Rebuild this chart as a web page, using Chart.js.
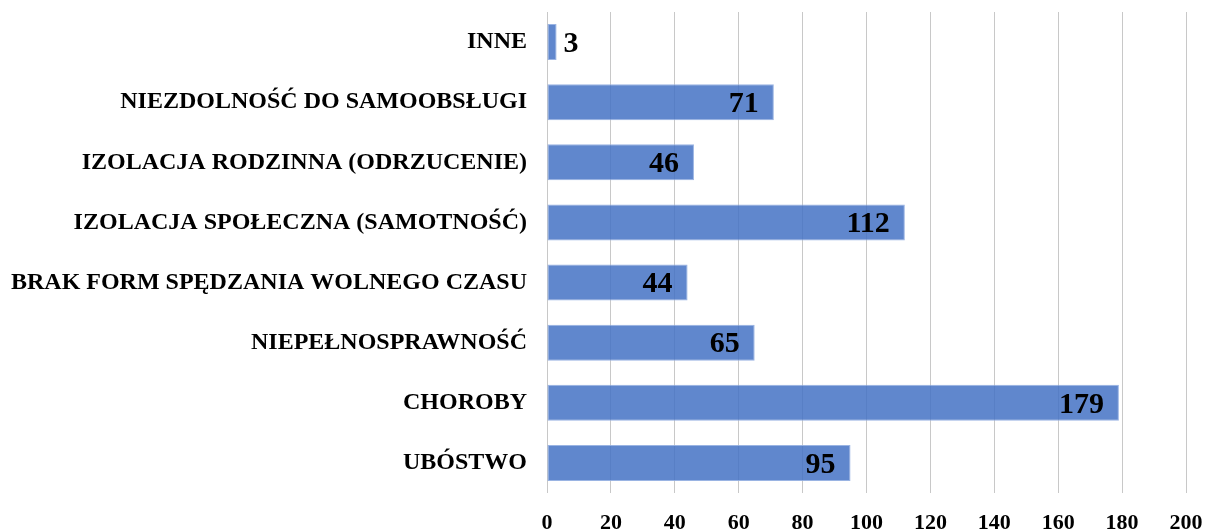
<!DOCTYPE html>
<html>
<head>
<meta charset="utf-8">
<script src="https://cdn.jsdelivr.net/npm/chart.js@4/dist/chart.umd.min.js"></script>
<style>
    html, body { margin: 0; padding: 0; background: #fff; }
    #wrap { width: 1208px; height: 531px; }
</style>
</head>
<body>
<div id="wrap"><canvas id="barChart"></canvas></div>
<script>
// Chart data (top to bottom as in the picture)
const categories = [
    'INNE',
    'NIEZDOLNOŚĆ DO SAMOOBSŁUGI',
    'IZOLACJA RODZINNA (ODRZUCENIE)',
    'IZOLACJA SPOŁECZNA (SAMOTNOŚĆ)',
    'BRAK FORM SPĘDZANIA WOLNEGO CZASU',
    'NIEPEŁNOSPRAWNOŚĆ',
    'CHOROBY',
    'UBÓSTWO'
];
const values = [3, 71, 46, 112, 44, 65, 179, 95];
const xTicks = [0, 20, 40, 60, 80, 100, 120, 140, 160, 180, 200];

const serif = '"Liberation Serif", "Times New Roman", serif';

// Draw value labels at the end of each bar
const valueLabels = {
    id: 'valueLabels',
    afterDatasetsDraw(chart) {
        const ctx = chart.ctx;
        const meta = chart.getDatasetMeta(0);
        ctx.save();
        ctx.font = 'bold 30px ' + serif;
        ctx.fillStyle = '#000';
        ctx.textBaseline = 'middle';
        meta.data.forEach((bar, i) => {
            const text = String(values[i]);
            const w = ctx.measureText(text).width;
            const len = bar.x - bar.base;
            if (len > w + 24) {
                ctx.textAlign = 'right';
                ctx.fillText(text, bar.x - 15, bar.y + 2);
            } else {
                ctx.textAlign = 'left';
                ctx.fillText(text, bar.x + 7, bar.y + 2);
            }
        });
        ctx.restore();
    }
};

const ctx = document.getElementById('barChart').getContext('2d');

new Chart(ctx, {
    type: 'bar',
    data: {
        labels: categories,
        datasets: [{
            data: values,
            backgroundColor: 'rgba(68, 114, 196, 0.85)',
            borderColor: 'rgba(143, 172, 224, 0.9)',
            borderWidth: 1,
            borderSkipped: false,
            barPercentage: 0.6,
            categoryPercentage: 1.0
        }]
    },
    options: {
        indexAxis: 'y',
        responsive: true,
        maintainAspectRatio: false,
        animation: false,
        layout: {
            padding: { top: 12, right: 22, left: 0, bottom: 0 }
        },
        plugins: {
            legend: { display: false },
            tooltip: { enabled: false }
        },
        scales: {
            x: {
                min: 0,
                max: 200,
                afterBuildTicks: axis => {
                    axis.ticks = xTicks.map(v => ({ value: v }));
                },
                afterFit: axis => {
                    axis.height = 38;
                    axis.paddingLeft = 0;
                    axis.paddingRight = 0;
                },
                ticks: {
                    color: '#000',
                    padding: 17,
                    font: { family: serif, size: 22, weight: 'bold' }
                },
                grid: {
                    color: '#c8c8c8',
                    lineWidth: 1,
                    drawTicks: false
                },
                border: { display: false }
            },
            y: {
                afterFit: axis => {
                    axis.width = 547;
                    axis.paddingTop = 0;
                    axis.paddingBottom = 0;
                },
                ticks: {
                    color: '#000',
                    padding: 12,
                    font: { family: serif, size: 24, weight: 'bold' }
                },
                grid: { display: false },
                border: { display: false }
            }
        }
    },
    plugins: [valueLabels]
});
</script>
</body>
</html>
